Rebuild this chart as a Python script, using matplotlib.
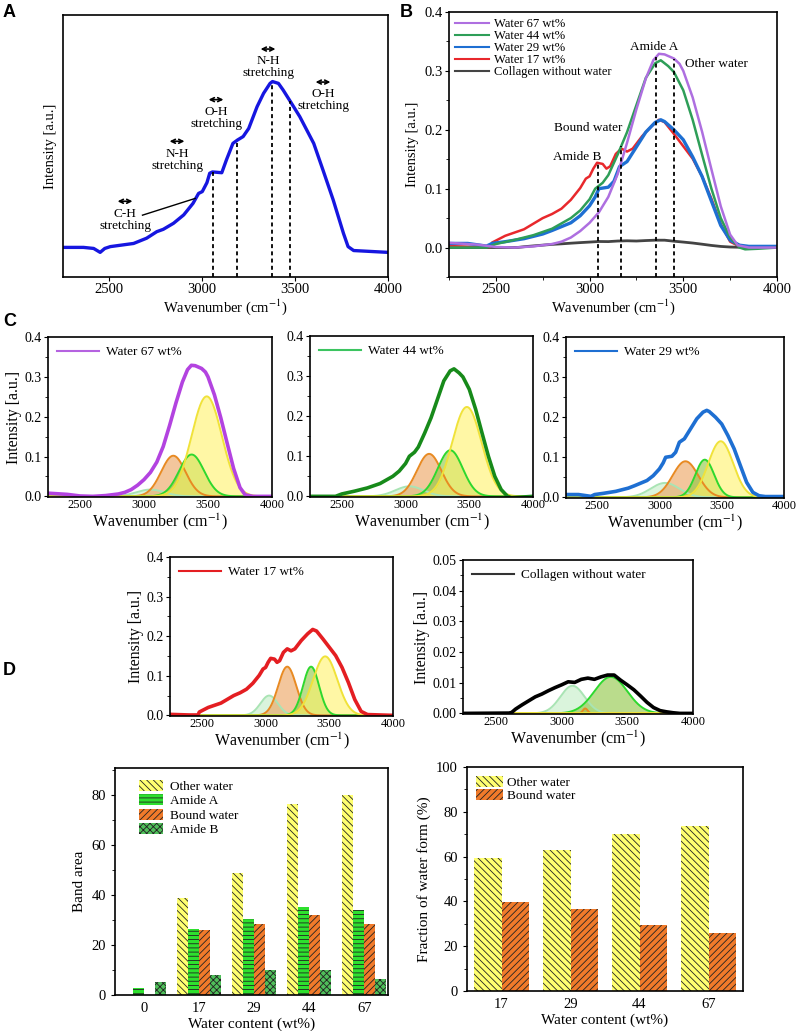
import numpy as np
import matplotlib.pyplot as plt
from matplotlib.lines import Line2D
from matplotlib.ticker import MultipleLocator, FormatStrFormatter

plt.rcParams['font.family'] = ['Liberation Serif', 'DejaVu Serif']
plt.rcParams['mathtext.fontset'] = 'stix'
plt.rcParams['hatch.linewidth'] = 0.6
plt.rcParams['axes.linewidth'] = 1.2

# ---------------- data ----------------
# panel A (arbitrary units)
a_wn = [2250, 2360, 2415, 2450, 2475, 2505, 2630, 2700, 2755, 2790, 2845, 2900, 2950,
        2980, 3000, 3025, 3040, 3055, 3105, 3130, 3165, 3190, 3220, 3250, 3295, 3330,
        3365, 3378, 3410, 3435, 3475, 3525, 3600, 3650, 3705, 3760, 3785, 3815, 4000]
a_int = [0.113, 0.113, 0.109, 0.094, 0.109, 0.116, 0.128, 0.148, 0.173, 0.182, 0.205,
         0.237, 0.281, 0.319, 0.326, 0.360, 0.396, 0.401, 0.398, 0.447, 0.510, 0.523,
         0.536, 0.567, 0.650, 0.701, 0.739, 0.746, 0.739, 0.714, 0.669, 0.612, 0.510,
         0.408, 0.294, 0.167, 0.116, 0.101, 0.094]
a_marks = [3056, 3189, 3377, 3472]

# spectra for B and C
wn_67 = [2250, 2400, 2500, 2600, 2700, 2800, 2850, 2900, 2950, 3000, 3050, 3100, 3150,
         3200, 3250, 3300, 3340, 3370, 3400, 3450, 3480, 3500, 3550, 3600, 3650, 3700,
         3750, 3790, 3850, 4000]
int_67 = [0.008, 0.005, 0.001, 0.0, 0.002, 0.006, 0.010, 0.017, 0.028, 0.042, 0.060,
          0.086, 0.125, 0.178, 0.235, 0.287, 0.318, 0.329, 0.328, 0.321, 0.312, 0.300,
          0.255, 0.197, 0.133, 0.070, 0.022, 0.004, 0.0, 0.0]

wn_44 = [2250, 2450, 2500, 2600, 2700, 2800, 2900, 2950, 3000, 3030, 3070, 3100, 3150,
         3200, 3250, 3300, 3350, 3380, 3420, 3450, 3500, 3550, 3600, 3650, 3700, 3750,
         3800, 3830, 3900, 4000]
int_44 = [0.0, 0.0, 0.006, 0.013, 0.021, 0.032, 0.050, 0.063, 0.082, 0.100, 0.110,
          0.123, 0.158, 0.196, 0.242, 0.288, 0.313, 0.318, 0.308, 0.298, 0.267, 0.217,
          0.158, 0.100, 0.050, 0.017, 0.0, -0.003, -0.002, 0.0]

wn_29 = [2250, 2350, 2450, 2480, 2550, 2650, 2750, 2800, 2900, 2950, 3000, 3030, 3050,
         3100, 3130, 3160, 3200, 3250, 3300, 3350, 3380, 3400, 3450, 3500, 3550, 3600,
         3650, 3700, 3750, 3800, 3850, 4000]
int_29 = [0.007, 0.007, 0.0025, 0.007, 0.010, 0.015, 0.023, 0.029, 0.042, 0.054, 0.071,
          0.086, 0.100, 0.1025, 0.1125, 0.1375, 0.146, 0.171, 0.196, 0.2125, 0.217, 0.214,
          0.200, 0.183, 0.154, 0.121, 0.079, 0.0375, 0.0125, 0.004, 0.002, 0.002]

wn_17 = [2250, 2400, 2470, 2480, 2550, 2650, 2750, 2800, 2850, 2900, 2950, 2980, 3000,
         3020, 3040, 3070, 3090, 3110, 3140, 3170, 3200, 3230, 3280, 3330, 3370, 3400,
         3450, 3500, 3550, 3600, 3650, 3700, 3750, 3800, 4000]
int_17 = [0.0025, 0.001, 0.001, 0.0085, 0.020, 0.031, 0.050, 0.057, 0.066, 0.081, 0.101,
          0.117, 0.121, 0.134, 0.144, 0.142, 0.134, 0.138, 0.159, 0.168, 0.163, 0.168,
          0.189, 0.206, 0.217, 0.213, 0.193, 0.172, 0.151, 0.121, 0.083, 0.040, 0.010,
          0.002, 0.0]

wn_0 = [2250, 2600, 2620, 2650, 2700, 2750, 2800, 2850, 2900, 2950, 3000, 3050, 3100,
        3150, 3200, 3250, 3300, 3350, 3400, 3450, 3500, 3550, 3600, 3650, 3700, 3750,
        3800, 3850, 3900, 4000]
int_0 = [0.0, 0.0001, 0.0003, 0.0014, 0.0028, 0.0041, 0.0054, 0.0063, 0.0074, 0.0084,
         0.0093, 0.0103, 0.0101, 0.0111, 0.0115, 0.0111, 0.0119, 0.0125, 0.0125, 0.0108,
         0.0093, 0.0077, 0.0057, 0.0036, 0.0019, 0.0009, 0.0005, 0.0002, 0.0, 0.0]

b_marks = [3045, 3168, 3355, 3451]

# fitted bands: Amide B, Bound water, Amide A, Other water
band_names = ['Amide B', 'Bound water', 'Amide A', 'Other water']
fit_center_67 = [3050, 3229, 3372, 3490]
fit_height_67 = [0.017, 0.102, 0.105, 0.251]
fit_sigma_67 = [110, 95, 98, 118]
fit_center_44 = [3030, 3185, 3351, 3481]
fit_height_44 = [0.025, 0.106, 0.115, 0.223]
fit_sigma_44 = [110, 96, 98, 115]
fit_center_29 = [3045, 3209, 3364, 3492]
fit_height_29 = [0.036, 0.090, 0.094, 0.140]
fit_sigma_29 = [115, 103, 75, 100]
fit_center_17 = [3028, 3170, 3357, 3468]
fit_height_17 = [0.050, 0.123, 0.123, 0.149]
fit_sigma_17 = [68, 71, 63, 95]
fit_center_0 = [3083, 3180, 3375, 3450]
fit_height_0 = [0.009, 0.0016, 0.0119, 0.0]
fit_sigma_0 = [92, 18, 125, 90]

# panel D
d_cats = ['0', '17', '29', '44', '67']
area_other = [0, 38.9, 49.1, 76.7, 80.3]
area_amideA = [3.0, 26.3, 30.3, 35.2, 34.0]
area_bound = [0, 26.0, 28.4, 32.0, 28.3]
area_amideB = [5.2, 8.0, 10.0, 10.0, 6.3]

f_cats = ['17', '29', '44', '67']
frac_other = [59.3, 63.1, 70.3, 73.8]
frac_bound = [39.9, 36.5, 29.3, 25.9]

# ---------------- figure ----------------
W, H = 800, 1031
fig = plt.figure(figsize=(W / 100, H / 100), dpi=100)


def box(l, t, r, b):
    return fig.add_axes([l / W, 1 - b / H, (r - l) / W, (b - t) / H])


xlab = 'Wavenumber (cm$^{-1}$)'

# ---- A ----
axA = box(63, 15, 388, 277)
axA.plot(a_wn, a_int, color='#1616E0', lw=2.4)
for x in a_marks:
    axA.plot([x, x], [0, np.interp(x, a_wn, a_int)], color='k', ls='--', lw=1.3,
             dashes=(2.2, 1.8))
axA.set_xlim(2250, 4000)
axA.set_ylim(0, 1)
axA.set_yticks([])
axA.set_xticks([2500, 3000, 3500, 4000])
axA.tick_params(axis='x', labelsize=10.5, length=3, pad=1.5)
axA.set_xlabel(xlab, fontsize=10.5, labelpad=1)
axA.set_ylabel('Intensity [a.u.]', fontsize=10.5)

for lab, x, y in [('C-H', 2584, 0.219), ('N-H', 2864, 0.448), ('O-H', 3074, 0.607),
                  ('N-H', 3354, 0.800), ('O-H', 3650, 0.674)]:
    axA.text(x, y, lab + '\nstretching', ha='center', va='center', fontsize=9.5,
             linespacing=1.0)
    axA.annotate('', xy=(x - 40, y + 0.07), xytext=(x + 40, y + 0.07),
                 arrowprops=dict(arrowstyle='<->', lw=1.2, color='k',
                                 mutation_scale=7, shrinkA=0, shrinkB=0))
axA.plot([2678, 2962], [0.236, 0.300], color='k', lw=1.0)

# ---- B ----
axB = box(449, 12, 777, 277)
b_series = [(wn_67, int_67, '#AE6FE0', 1.8, 'Water 67 wt%'),
            (wn_44, int_44, '#2E9E58', 1.8, 'Water 44 wt%'),
            (wn_29, int_29, '#1E6FD2', 2.4, 'Water 29 wt%'),
            (wn_17, int_17, '#E8282C', 1.8, 'Water 17 wt%'),
            (wn_0, int_0, '#444444', 2.0, 'Collagen without water')]
for wn, it, c, lw, lab in b_series[::-1]:
    axB.plot(wn, it, color=c, lw=lw)
for x in b_marks:
    top = max(np.interp(x, s[0], s[1]) for s in b_series)
    axB.plot([x, x], [-0.05, top], color='k', ls='--', lw=1.3, dashes=(2.2, 1.8))
axB.set_xlim(2250, 4000)
axB.set_ylim(-0.05, 0.4)
axB.set_xticks([2500, 3000, 3500, 4000])
axB.xaxis.set_minor_locator(MultipleLocator(250))
axB.set_yticks([0, 0.1, 0.2, 0.3, 0.4])
axB.yaxis.set_minor_locator(MultipleLocator(0.05))
axB.yaxis.set_major_formatter(FormatStrFormatter('%.1f'))
axB.tick_params(labelsize=10.5, length=3, pad=1.5)
axB.tick_params(which='minor', length=2)
axB.set_xlabel(xlab, fontsize=10.5, labelpad=1)
axB.set_ylabel('Intensity [a.u.]', fontsize=10.5)
handles = [Line2D([], [], color=c, lw=1.5) for _, _, c, _, _ in b_series]
axB.legend(handles, [s[4] for s in b_series], loc='upper left', frameon=False,
           fontsize=9, labelspacing=0.0, handlelength=2.7, handletextpad=0.4,
           borderaxespad=0.3, borderpad=0.2)
for lab, x, y in [('Amide A', 3344, 0.341), ('Other water', 3675, 0.312),
                  ('Bound water', 2992, 0.203), ('Amide B', 2933, 0.153)]:
    axB.text(x, y, lab, ha='center', va='center', fontsize=9.5)

# ---- C ----
band_edge = ['#A9E4B4', '#E88A22', '#2ED82E', '#F0E23A']
band_fill = ['#C2EDC6', '#EBA05A', '#8DC640', '#FFF36A']
xg = np.linspace(2250, 4000, 800)


def fit_panel(box_px, wn, it, color, lab, cen, hgt, sig, ymax, step, fmt, ylabel, lw_leg):
    ax = box(*box_px)
    for k in range(4):
        g = hgt[k] * np.exp(-(xg - cen[k]) ** 2 / (2 * sig[k] ** 2))
        ax.fill_between(xg, 0, g, color=band_fill[k], alpha=0.6, lw=0)
        ax.plot(xg, g, color=band_edge[k], lw=1.4)
    ax.plot(wn, it, color=color, lw=2.6)
    ax.set_xlim(2250, 4000)
    ax.set_ylim(-ymax * 0.004, ymax)
    ax.set_xticks([2500, 3000, 3500, 4000])
    ax.set_yticks(np.arange(0, ymax + step / 2, step))
    ax.yaxis.set_minor_locator(MultipleLocator(step / 2))
    ax.yaxis.set_major_formatter(FormatStrFormatter(fmt))
    ax.tick_params(axis='x', length=0, pad=1.5, labelsize=9)
    ax.tick_params(axis='y', length=3, pad=1.5, labelsize=10)
    ax.tick_params(axis='y', which='minor', length=2)
    ax.set_xlabel(xlab, fontsize=11.5, labelpad=0)
    if ylabel:
        ax.set_ylabel('Intensity [a.u.]', fontsize=11.5, labelpad=2)
    ax.legend([Line2D([], [], color=lw_leg, lw=1.5)], [lab], loc='upper left',
              frameon=False, fontsize=9.5, handlelength=3.2, handletextpad=0.5,
              borderaxespad=0.4, borderpad=0.3)
    return ax


fit_panel((48, 337, 272, 497), wn_67, int_67, '#B343E0', 'Water 67 wt%',
          fit_center_67, fit_height_67, fit_sigma_67, 0.4, 0.1, '%.1f', True, '#B562E0')
fit_panel((310, 336, 533, 497), wn_44, int_44, '#178A1A', 'Water 44 wt%',
          fit_center_44, fit_height_44, fit_sigma_44, 0.4, 0.1, '%.1f', False, '#3CC460')
fit_panel((566, 337, 784, 498), wn_29, int_29, '#1E6FD2', 'Water 29 wt%',
          fit_center_29, fit_height_29, fit_sigma_29, 0.4, 0.1, '%.1f', False, '#1E6FD2')
fit_panel((170, 557, 393, 716), wn_17, int_17, '#E41E22', 'Water 17 wt%',
          fit_center_17, fit_height_17, fit_sigma_17, 0.4, 0.1, '%.1f', True, '#E41E22')
fit_panel((463, 560, 693, 714), wn_0, int_0, '#000000', 'Collagen without water',
          fit_center_0, fit_height_0, fit_sigma_0, 0.05, 0.01, '%.2f', True, '#333333')

# ---- D ----
axD1 = box(115, 768, 388, 995)
x1 = np.arange(len(d_cats))
d_series = [(area_other, '#FFFF70', '\\\\\\\\\\', 'Other water'),
            (area_amideA, '#2EE02E', '----', 'Amide A'),
            (area_bound, '#F07A2A', '/////', 'Bound water'),
            (area_amideB, '#4FBF5A', 'xxxxx', 'Amide B')]
for k, (vals, fc, ht, lab) in enumerate(d_series):
    axD1.bar(x1 + (k - 1.5) * 0.2, vals, width=0.2, color=fc, hatch=ht,
             edgecolor='#222222', lw=0, label=lab)
axD1.set_xlim(-0.52, 4.43)
axD1.set_ylim(0, 91)
axD1.set_xticks(x1)
axD1.set_xticklabels(d_cats)
axD1.set_yticks([0, 20, 40, 60, 80])
axD1.yaxis.set_minor_locator(MultipleLocator(10))
axD1.tick_params(axis='x', length=0, pad=5, labelsize=10.5)
axD1.tick_params(axis='y', length=3, labelsize=10.5)
axD1.tick_params(axis='y', which='minor', length=2)
axD1.set_xlabel('Water content (wt%)', fontsize=11, labelpad=2)
axD1.set_ylabel('Band area', fontsize=11)
axD1.legend(loc='upper left', bbox_to_anchor=(0.045, 1.0), frameon=False, fontsize=9.5,
            labelspacing=0.1, handlelength=1.8, handleheight=0.9, handletextpad=0.5)

axD2 = box(467, 767, 743, 991)
x2 = np.arange(len(f_cats))
axD2.bar(x2 - 0.2, frac_other, width=0.4, color='#FFFF70', hatch='\\\\\\\\\\',
         edgecolor='#222222', lw=0, label='Other water')
axD2.bar(x2 + 0.2, frac_bound, width=0.4, color='#F07A2A', hatch='/////',
         edgecolor='#222222', lw=0, label='Bound water')
axD2.set_xlim(-0.5, 3.5)
axD2.set_ylim(0, 100)
axD2.set_xticks(x2)
axD2.set_xticklabels(f_cats)
axD2.set_yticks([0, 20, 40, 60, 80, 100])
axD2.yaxis.set_minor_locator(MultipleLocator(10))
axD2.tick_params(axis='x', length=0, pad=5, labelsize=10.5)
axD2.tick_params(axis='y', length=3, labelsize=10.5)
axD2.tick_params(axis='y', which='minor', length=2)
axD2.set_xlabel('Water content (wt%)', fontsize=11, labelpad=2)
axD2.set_ylabel('Fraction of water form (%)', fontsize=11)
axD2.legend(loc='upper left', frameon=False, fontsize=9.5, labelspacing=0.0,
            handlelength=2.0, handleheight=0.9, handletextpad=0.3,
            borderaxespad=0.3)

# panel letters
for lab, x, y in [('A', 3, 4), ('B', 400, 4), ('C', 3, 313), ('D', 3, 662)]:
    fig.text(x / W, 1 - y / H, lab, fontsize=13, fontweight='bold',
             family='Liberation Sans', va='top', ha='left')

fig.savefig('out.png', dpi=100)
